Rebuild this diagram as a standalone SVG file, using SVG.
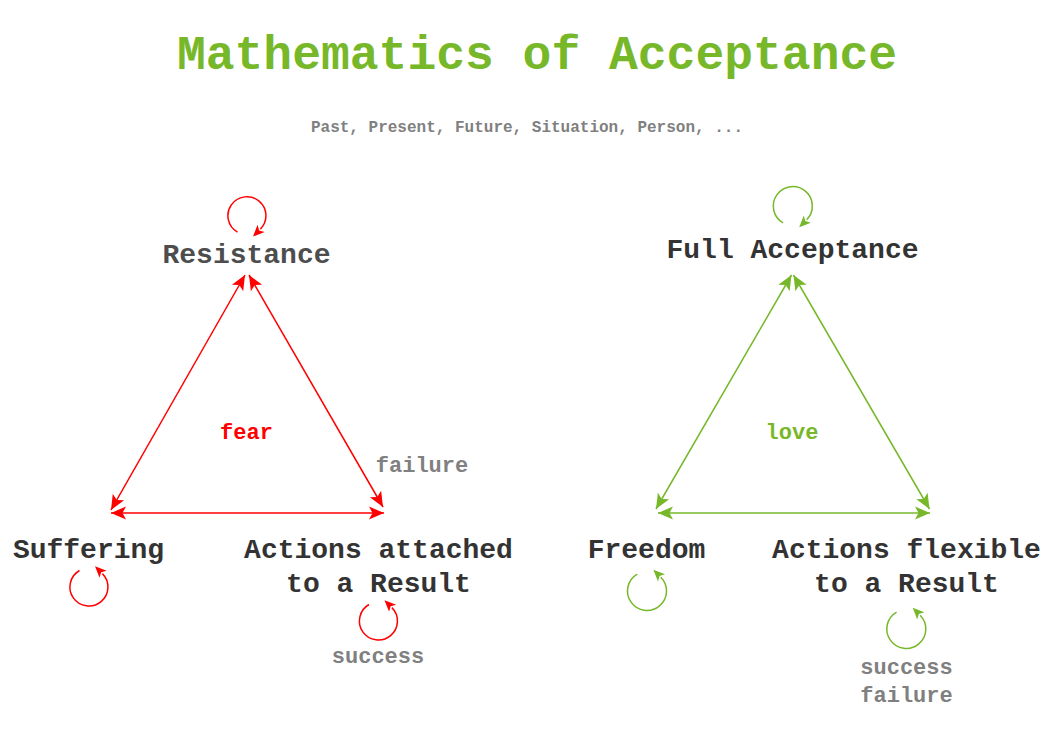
<svg xmlns="http://www.w3.org/2000/svg" width="1052" height="744" viewBox="0 0 1052 744">
<style>
text{font-family:"Courier New","Liberation Mono",monospace;font-weight:bold;text-anchor:middle}
.title{font-size:48px;fill:#77b82a}
.sub{font-size:16px;fill:#808080}
.node{font-size:28px;fill:#333333}
.lbl{font-size:22px;fill:#808080}
.red{stroke:#ff0000;stroke-width:1.5;fill:none}
.grn{stroke:#77b82a;stroke-width:1.5;fill:none}
.redE{marker-start:url(#ar);marker-end:url(#ar)}
.grnE{marker-start:url(#ag);marker-end:url(#ag)}
.redL{marker-end:url(#lr)}
.grnL{marker-end:url(#lg)}
</style>
<defs>
<marker id="ar" markerUnits="userSpaceOnUse" markerWidth="20" markerHeight="16" viewBox="0 -8 16 16" refX="15" refY="0" orient="auto-start-reverse"><path d="M0,-6.5 L15,0 L0,6.5 L3.5,0 Z" fill="#ff0000"/></marker>
<marker id="ag" markerUnits="userSpaceOnUse" markerWidth="20" markerHeight="16" viewBox="0 -8 16 16" refX="15" refY="0" orient="auto-start-reverse"><path d="M0,-6.5 L15,0 L0,6.5 L3.5,0 Z" fill="#77b82a"/></marker>
<marker id="lr" markerUnits="userSpaceOnUse" markerWidth="14" markerHeight="14" viewBox="0 -7 14 14" refX="1" refY="0" orient="auto"><path d="M0,-5 L11.5,0 L0,5 L2.8,0 Z" fill="#ff0000"/></marker>
<marker id="lg" markerUnits="userSpaceOnUse" markerWidth="14" markerHeight="14" viewBox="0 -7 14 14" refX="1" refY="0" orient="auto"><path d="M0,-5 L11.5,0 L0,5 L2.8,0 Z" fill="#77b82a"/></marker>
</defs>
<rect width="1052" height="744" fill="#ffffff"/>
<g id="title">
<text class="title" x="537" y="69">Mathematics of Acceptance</text>
<text class="sub" x="527" y="132">Past, Present, Future, Situation, Person, ...</text>
</g>
<g id="connectors">
<line class="red redE" x1="245" y1="275" x2="111" y2="510"/>
<line class="red redE" x1="249" y1="275" x2="383" y2="507"/>
<line class="red redE" x1="111" y1="513" x2="384" y2="513"/>
<line class="grn grnE" x1="791.5" y1="275" x2="656" y2="509"/>
<line class="grn grnE" x1="793.5" y1="275" x2="929.5" y2="509"/>
<line class="grn grnE" x1="658" y1="513" x2="930" y2="513"/>
<path class="red redL" d="M237.5,232.2 A19,19 0 1 1 260.4,229.1"/>
<path class="red redL" d="M79.5,570.5 A19,19 0 1 0 102.4,573.6"/>
<path class="red redL" d="M369,604.5 A19,19 0 1 0 391.9,607.6"/>
<path class="grn grnL" d="M783.05,222.9 A19.5,19.5 0 1 1 806.6,219.8"/>
<path class="grn grnL" d="M637.25,574.1 A19.5,19.5 0 1 0 660.8,577.2"/>
<path class="grn grnL" d="M896.55,612.1 A19.5,19.5 0 1 0 920.1,615.2"/>
</g>
<g id="resistance"><text class="node" x="246.5" y="263" style="fill:#4d4d4d">Resistance</text></g>
<g id="suffering"><text class="node" x="88.5" y="558">Suffering</text></g>
<g id="actions-attached"><text class="node" x="378.5" y="558">Actions attached</text><text class="node" x="378.5" y="592">to a Result</text></g>
<g id="fear"><text class="lbl" x="246.5" y="439" style="fill:#ff0000">fear</text></g>
<g id="failure-left"><text class="lbl" x="422" y="472">failure</text></g>
<g id="success-left"><text class="lbl" x="378" y="663">success</text></g>
<g id="full-acceptance"><text class="node" x="792.5" y="258">Full Acceptance</text></g>
<g id="freedom"><text class="node" x="646.5" y="558">Freedom</text></g>
<g id="actions-flexible"><text class="node" x="906.5" y="558">Actions flexible</text><text class="node" x="906.5" y="592">to a Result</text></g>
<g id="love"><text class="lbl" x="792" y="439" style="fill:#77b82a">love</text></g>
<g id="success-failure-right"><text class="lbl" x="906.5" y="674">success</text><text class="lbl" x="906.5" y="702">failure</text></g>
</svg>
